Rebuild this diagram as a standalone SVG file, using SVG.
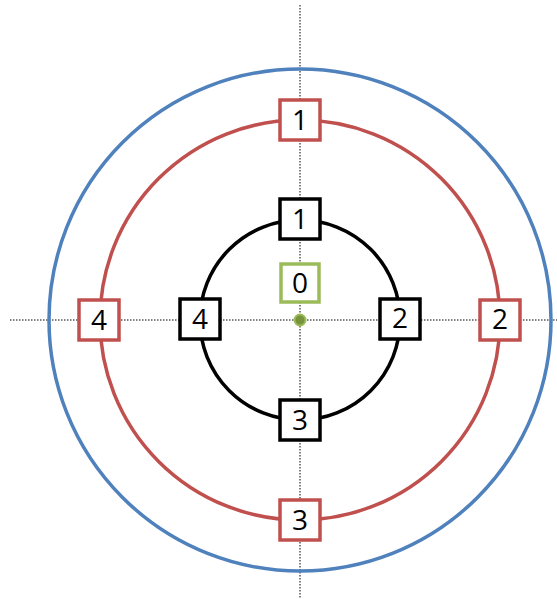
<svg xmlns="http://www.w3.org/2000/svg" width="557" height="599" viewBox="0 0 557 599">
<style>
.axis{stroke:#000;stroke-width:1;stroke-dasharray:1.5 1.5;fill:none}
.ring{fill:none;stroke-width:3.5}
.box{fill:#fff;stroke-width:3.5}
.red{stroke:#C0504D}
.blk{stroke:#000}
.grn{stroke:#9BBB59}
text{font-family:"Open Sans","Liberation Sans",sans-serif;font-size:28px;text-anchor:middle;dominant-baseline:central;fill:#000}
</style>
<rect width="557" height="599" fill="#fff"/>
<g id="connectors">
<line class="axis" x1="300" y1="5" x2="300" y2="599"/>
<line class="axis" x1="10" y1="320" x2="557" y2="320"/>
<circle class="ring" cx="300" cy="320" r="251" stroke="#4F81BD"/>
<circle class="ring red" cx="300" cy="320" r="200"/>
<circle class="ring blk" cx="300" cy="320" r="100"/>
</g>
<g id="center"><circle cx="300" cy="320" r="5.5" fill="#77933C" stroke="#9BBB59" stroke-width="2"/></g>
<g id="r1"><rect class="box red" x="280" y="100" width="40" height="40"/><text x="300" y="119">1</text></g>
<g id="r2"><rect class="box red" x="480" y="300" width="40" height="40"/><text x="500" y="318">2</text></g>
<g id="r3"><rect class="box red" x="280" y="500" width="40" height="40"/><text x="300" y="519">3</text></g>
<g id="r4"><rect class="box red" x="79" y="300" width="40" height="40"/><text x="99" y="319">4</text></g>
<g id="b1"><rect class="box blk" x="280" y="199" width="40" height="40"/><text x="300" y="218">1</text></g>
<g id="b2"><rect class="box blk" x="380" y="299" width="40" height="40"/><text x="400" y="317">2</text></g>
<g id="b3"><rect class="box blk" x="280" y="400" width="40" height="40"/><text x="300" y="419">3</text></g>
<g id="b4"><rect class="box blk" x="180" y="299" width="40" height="40"/><text x="200" y="318">4</text></g>
<g id="g0"><rect class="box grn" x="281" y="264" width="38" height="38"/><text x="300" y="282">0</text></g>
</svg>
